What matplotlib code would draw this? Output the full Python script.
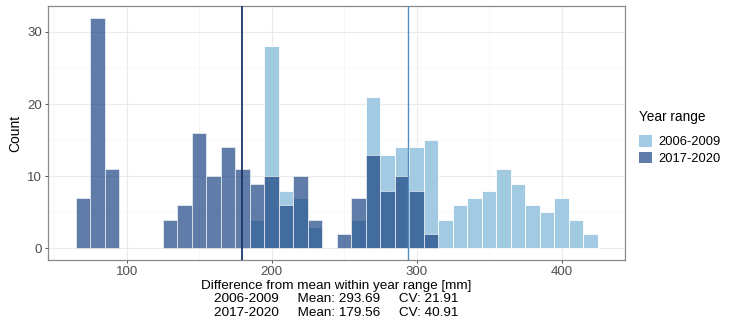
import numpy as np
import matplotlib
matplotlib.use('Agg')
import matplotlib.pyplot as plt
from matplotlib.patches import Patch

plt.rcParams['font.family'] = ['Liberation Sans', 'DejaVu Sans']

# bin centres (width 10 mm) and counts
bins_0609 = [190, 200, 210, 220, 230, 260, 270, 280, 290, 300, 310,
             320, 330, 340, 350, 360, 370, 380, 390, 400, 410, 420]
counts_0609 = [4, 28, 8, 7, 3, 4, 21, 13, 14, 14, 15,
               4, 6, 7, 8, 11, 9, 6, 5, 7, 4, 2]

bins_1720 = [70, 80, 90, 130, 140, 150, 160, 170, 180, 190, 200, 210,
             220, 230, 250, 260, 270, 280, 290, 300, 310]
counts_1720 = [7, 32, 11, 4, 6, 16, 10, 14, 11, 9, 10, 6,
               10, 4, 2, 7, 13, 8, 10, 8, 2]

labels = ['2006-2009', '2017-2020']
means = [293.69, 179.56]
cvs = [21.91, 40.91]

light = '#a3cae3'
dark = '#123c7d'
alpha_dark = 0.67

fig = plt.figure(figsize=(7.30, 3.23), dpi=100)
ax = fig.add_axes([48 / 730, 1 - 260 / 323, (625 - 48) / 730, (260 - 6) / 323])

ax.bar(bins_0609, counts_0609, width=10, color=light, edgecolor='white', linewidth=0.6, zorder=2)
ax.bar(bins_1720, counts_1720, width=10, color=dark, alpha=alpha_dark, edgecolor='white', linewidth=0.6, zorder=3)

ax.axvline(means[0], color='#4f8fc4', lw=1.0, zorder=4)
ax.axvline(means[1], color='#1d3567', lw=1.3, zorder=4)

ax.set_xlim(45.7, 443.7)
ax.set_ylim(-1.6, 33.6)
ax.set_xticks([100, 200, 300, 400])
ax.set_xticks([50, 150, 250, 350], minor=True)
ax.set_yticks([0, 10, 20, 30])
ax.set_yticks([5, 15, 25], minor=True)
ax.grid(True, which='major', color='#ebebeb', lw=0.8, zorder=0)
ax.grid(True, which='minor', color='#f4f4f4', lw=0.5, zorder=0)
ax.set_axisbelow(True)
for s in ax.spines.values():
    s.set_color('#8a8a8a')
    s.set_linewidth(0.9)
ax.tick_params(which='major', length=2.5, width=0.7, color='#555555', labelsize=9.5, labelcolor='#4d4d4d', pad=2)
ax.tick_params(which='minor', length=0)

stats = '\n'.join(f'{l}     Mean: {m:.2f}     CV: {c:.2f}' for l, m, c in zip(labels, means, cvs))
ax.set_xlabel('Difference from mean within year range [mm]\n' + stats, fontsize=9.7, labelpad=1, linespacing=1.2)
ax.set_ylabel('Count', fontsize=10, labelpad=3)

handles = [Patch(facecolor=light, edgecolor='none'),
           Patch(facecolor=dark, alpha=alpha_dark, edgecolor='none')]
fig.legend(handles, labels, title='Year range', loc='upper left', bbox_to_anchor=(639 / 730, 1 - 110 / 323),
           frameon=False, fontsize=9.3, title_fontsize=9.8, handlelength=1.0, handleheight=1.0,
           handletextpad=0.5, labelspacing=0.25, alignment='left', borderpad=0, borderaxespad=0)
fig.legends[0]._legend_box.sep = 8

fig.savefig('out.png', dpi=100)
